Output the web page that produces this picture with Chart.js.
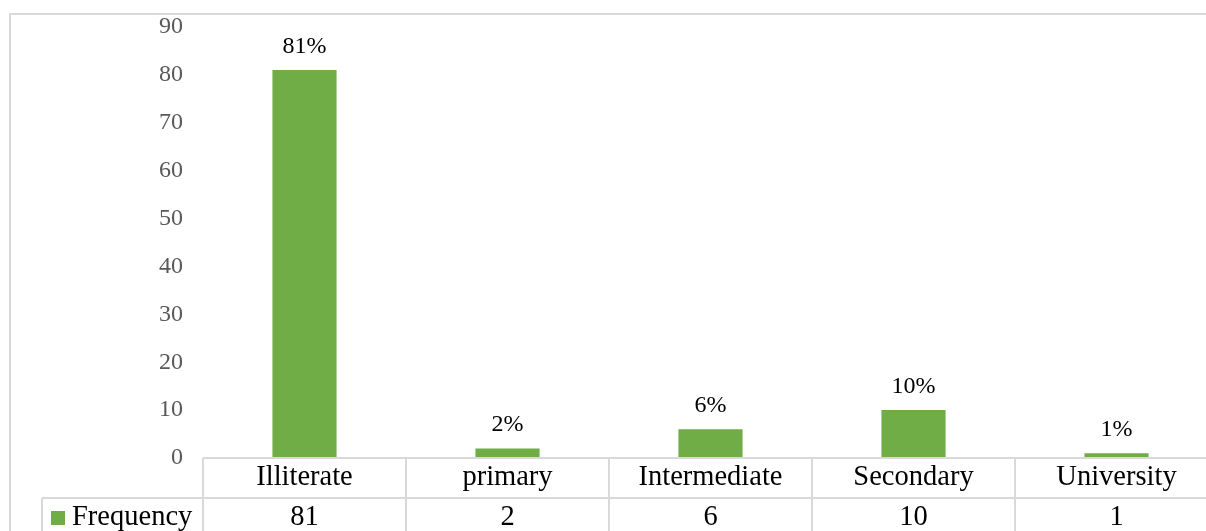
<!DOCTYPE html>
<html>
<head>
<meta charset="utf-8">
<script src="https://cdn.jsdelivr.net/npm/chart.js@4.4.1/dist/chart.umd.min.js"></script>
<style>
	html, body { margin: 0; padding: 0; background: #fff; overflow: hidden; }
	#wrap { width: 1206px; height: 531px; overflow: hidden; }
</style>
</head>
<body>
<div id="wrap"><canvas id="edu" width="1230" height="531"></canvas></div>
<script>
var levels = ['Illiterate', 'primary', 'Intermediate', 'Secondary', 'University'],
	frequency = [81, 2, 6, 10, 1],
	seriesName = 'Frequency',
	yTicks = [0, 10, 20, 30, 40, 50, 60, 70, 80, 90];

var green = '#70ad47',
	lineColor = '#d9d9d9',
	serif = '"Liberation Serif", "Times New Roman", serif';

var total = frequency.reduce(function (a, b) { return a + b; }, 0);

// outer chart frame
var frame = {
	id: 'frame',
	beforeDraw: function (chart) {
		var ctx = chart.ctx;
		ctx.save();
		ctx.fillStyle = '#fff';
		ctx.fillRect(0, 0, chart.width, chart.height);
		ctx.strokeStyle = lineColor;
		ctx.lineWidth = 2;
		ctx.strokeRect(10, 14, chart.width + 20, chart.height + 20);
		ctx.restore();
	}
};

// percentage labels above each bar
var pctLabels = {
	id: 'pctLabels',
	afterDatasetsDraw: function (chart) {
		var ctx = chart.ctx,
			meta = chart.getDatasetMeta(0);
		ctx.save();
		ctx.font = '24px ' + serif;
		ctx.fillStyle = '#000';
		ctx.textAlign = 'center';
		ctx.textBaseline = 'alphabetic';
		meta.data.forEach(function (bar, i) {
			var pct = Math.round(frequency[i] / total * 100);
			ctx.fillText(pct + '%', bar.x, bar.y - 17);
		});
		ctx.restore();
	}
};

// data table under the plot
var dataTable = {
	id: 'dataTable',
	afterDraw: function (chart) {
		var ctx = chart.ctx,
			x = chart.scales.x,
			area = chart.chartArea,
			top = area.bottom,
			rowH = 40,
			half = (x.getPixelForValue(1) - x.getPixelForValue(0)) / 2,
			bottom = chart.height + 10;
		ctx.save();
		ctx.strokeStyle = lineColor;
		ctx.lineWidth = 2;
		ctx.beginPath();
		ctx.moveTo(area.left, top);
		ctx.lineTo(chart.width, top);
		ctx.moveTo(42, top + rowH);
		ctx.lineTo(chart.width, top + rowH);
		ctx.moveTo(42, top + rowH);
		ctx.lineTo(42, bottom);
		for (var i = 0; i <= levels.length; i++) {
			var bx = x.getPixelForValue(0) - half + i * 2 * half;
			ctx.moveTo(bx, top);
			ctx.lineTo(bx, bottom);
		}
		ctx.stroke();

		ctx.fillStyle = '#000';
		ctx.font = '28.5px ' + serif;
		ctx.textAlign = 'center';
		ctx.textBaseline = 'middle';
		levels.forEach(function (lab, i) {
			var cx = x.getPixelForValue(i);
			ctx.fillText(lab, cx, top + 20);
			ctx.fillText(String(frequency[i]), cx, top + 60);
		});

		// legend key
		ctx.fillStyle = green;
		ctx.fillRect(51, top + 53, 14, 14);
		ctx.fillStyle = '#000';
		ctx.textAlign = 'left';
		ctx.fillText(seriesName, 72, top + 60);
		ctx.restore();
	}
};

new Chart(document.getElementById('edu').getContext('2d'), {
	type: 'bar',
	data: {
		labels: levels,
		datasets: [{
			label: seriesName,
			data: frequency,
			backgroundColor: green,
			borderWidth: 0,
			categoryPercentage: 1,
			barPercentage: 0.316
		}]
	},
	options: {
		responsive: false,
		animation: false,
		devicePixelRatio: 1,
		layout: { padding: { left: 0, right: 12, top: 27, bottom: 73 } },
		plugins: {
			legend: { display: false },
			tooltip: { enabled: false }
		},
		scales: {
			x: { display: false },
			y: {
				min: 0,
				max: 90,
				afterFit: function (scale) {
					scale.width = 203;
					// labels may overhang the plot edges; the layout padding covers them
					scale.paddingTop = 0;
					scale.paddingBottom = 0;
				},
				afterBuildTicks: function (scale) {
					scale.ticks = yTicks.map(function (v) { return { value: v }; });
				},
				grid: { display: false, drawTicks: false },
				border: { display: false },
				ticks: {
					padding: 20,
					color: '#595959',
					font: { family: serif, size: 24 }
				}
			}
		}
	},
	plugins: [frame, pctLabels, dataTable]
});
</script>
</body>
</html>
